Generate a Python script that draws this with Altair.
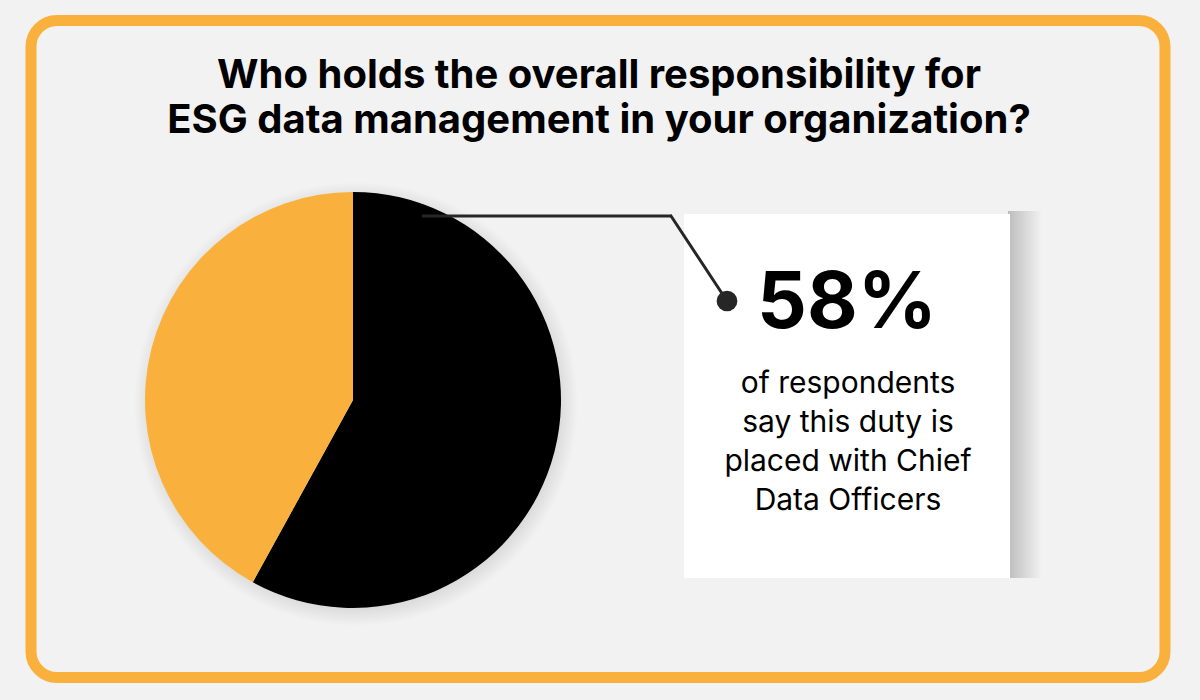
import altair as alt
import pandas as pd

# Survey answer shares (percent)
groups = ["Chief Data Officers", "Others"]
shares = [58, 42]
slice_order = [0, 1]
slice_colors = ["#000000", "#FAB03C"]

title_lines = [
    "Who holds the overall responsibility for",
    "ESG data management in your organization?",
]
headline = "58%"
body_lines = [
    "of respondents",
    "say this duty is",
    "placed with Chief",
    "Data Officers",
]

W, H = 1200, 700
BG = "#F2F2F2"
ORANGE = "#FAB03C"
INK = "#262626"
FONT = "Inter"

pie_df = pd.DataFrame({"group": groups, "share": shares, "order": slice_order})
one = pd.DataFrame({"k": [0]})

# rounded orange frame
frame = alt.Chart(one).mark_rect(
    cornerRadius=26, fillOpacity=0, stroke=ORANGE, strokeWidth=11
).encode(x=alt.value(31), x2=alt.value(1165), y=alt.value(20.5), y2=alt.value(677.5))

# soft halo under the pie
halo = alt.Chart(one).mark_arc(
    outerRadius=222,
    color=alt.RadialGradient(
        gradient="radial",
        x1=0.5, y1=0.5, x2=0.5, y2=0.5, r1=0.0, r2=0.5,
        stops=[
            alt.GradientStop(offset=0.90, color="#d6d6d6"),
            alt.GradientStop(offset=1.0, color=BG),
        ],
    ),
).encode(x=alt.value(356), y=alt.value(404), theta=alt.value(6.2832))

pie = alt.Chart(pie_df).mark_arc(outerRadius=208, stroke=None).encode(
    theta=alt.Theta("share:Q", stack=True),
    order=alt.Order("order:Q"),
    color=alt.Color(
        "group:N",
        scale=alt.Scale(domain=groups, range=slice_colors),
        legend=None,
    ),
    x=alt.value(353),
    y=alt.value(400),
)

# call-out card with a shadow on its right edge
shadow = alt.Chart(one).mark_rect(
    color=alt.LinearGradient(
        gradient="linear",
        x1=0, x2=1, y1=0, y2=0,
        stops=[
            alt.GradientStop(offset=0, color="#bdbdbd"),
            alt.GradientStop(offset=1, color=BG),
        ],
    )
).encode(x=alt.value(1008), x2=alt.value(1042), y=alt.value(211), y2=alt.value(578))

card = alt.Chart(one).mark_rect(color="#FFFFFF").encode(
    x=alt.value(684), x2=alt.value(1010), y=alt.value(214), y2=alt.value(578)
)

leader_h = alt.Chart(one).mark_rule(color=INK, strokeWidth=3).encode(
    x=alt.value(422), x2=alt.value(672), y=alt.value(216), y2=alt.value(216)
)
leader_d = alt.Chart(one).mark_rule(color=INK, strokeWidth=3, strokeCap="round").encode(
    x=alt.value(671), x2=alt.value(727), y=alt.value(216), y2=alt.value(301)
)
dot = alt.Chart(one).mark_point(
    shape="circle", filled=True, opacity=1, color=INK, size=430
).encode(x=alt.value(727), y=alt.value(301))

title = alt.Chart(one).mark_text(
    font=FONT, fontSize=40, fontWeight=700, color="#000000",
    align="center", baseline="alphabetic", lineHeight=45,
    text=title_lines,
).encode(x=alt.value(599), y=alt.value(88))

big = alt.Chart(one).mark_text(
    font=FONT, fontSize=78, fontWeight=700, color="#000000",
    align="center", baseline="alphabetic", text=headline,
).encode(x=alt.value(847), y=alt.value(328))

body = alt.Chart(one).mark_text(
    font=FONT, fontSize=30, fontWeight=400, color="#000000",
    align="center", baseline="alphabetic", lineHeight=39,
    text=body_lines,
).encode(x=alt.value(848), y=alt.value(393))

chart = alt.layer(
    frame, halo, pie, shadow, card, leader_h, leader_d, dot, title, big, body
).properties(
    width=W, height=H, background=BG, padding=0,
    autosize=alt.AutoSizeParams(type="none"),
).configure_view(stroke=None)

chart.save("out.html", embed_options={"renderer": "svg", "actions": False})
